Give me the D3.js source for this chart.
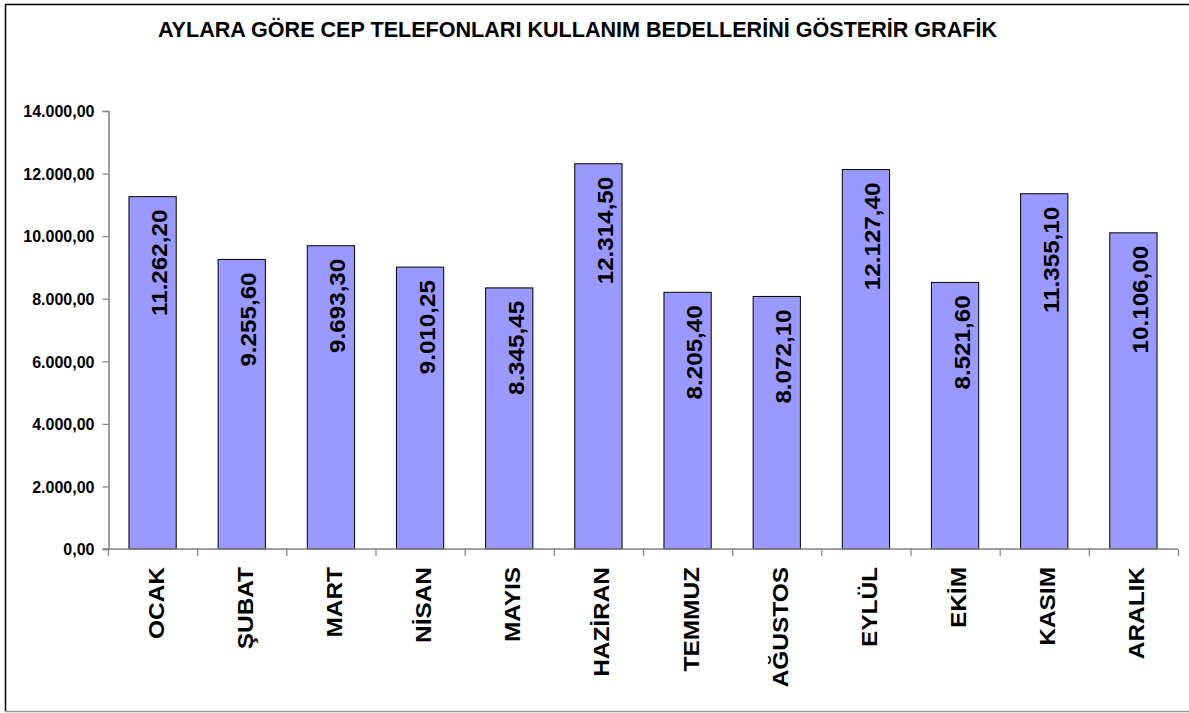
<!DOCTYPE html>
<html>
<head>
<meta charset="utf-8">
<script src="https://cdn.jsdelivr.net/npm/d3@7"></script>
<style>
  body { margin: 0; background: #fff; }
  text { font-family: "Liberation Sans", Arial, sans-serif; font-weight: bold; fill: #000; }
</style>
</head>
<body>
<svg id="chart" width="1189" height="713"></svg>
<script>
// chart data
const months = ["OCAK", "ŞUBAT", "MART", "NİSAN", "MAYIS", "HAZİRAN",
  "TEMMUZ", "AĞUSTOS", "EYLÜL", "EKİM", "KASIM", "ARALIK"];
const amounts = [11262.20, 9255.60, 9693.30, 9010.25, 8345.45, 12314.50,
  8205.40, 8072.10, 12127.40, 8521.60, 11355.10, 10106.00];
const yTicks = [0, 2000, 4000, 6000, 8000, 10000, 12000, 14000];
const title = "AYLARA GÖRE CEP TELEFONLARI KULLANIM BEDELLERİNİ GÖSTERİR GRAFİK";

const svg = d3.select("#chart");

// turkish number format 12.314,50
const trFmt = d3.formatLocale({
  decimal: ",", thousands: ".", grouping: [3], currency: ["", ""]
}).format(",.2f");

const x = d3.scaleBand().domain(months).range([108, 1178]).paddingInner(0.47).paddingOuter(0.235);
const y = d3.scaleLinear().domain([0, 14000]).range([549, 111]);

// outer frame
svg.append("line").attr("x1", 5.5).attr("x2", 5.5).attr("y1", 4.5).attr("y2", 711.5)
  .attr("stroke", "#000").attr("stroke-width", 1.5);
svg.append("line").attr("x1", 5).attr("x2", 1189).attr("y1", 4.5).attr("y2", 4.5)
  .attr("stroke", "#000").attr("stroke-width", 1.5);
svg.append("line").attr("x1", 5).attr("x2", 1189).attr("y1", 711.5).attr("y2", 711.5)
  .attr("stroke", "#999").attr("stroke-width", 1.5);

// title
svg.append("text")
  .attr("x", 577.5)
  .attr("y", 36.5)
  .attr("text-anchor", "middle")
  .style("font-size", "22px")
  .attr("textLength", 839)
  .attr("lengthAdjust", "spacingAndGlyphs")
  .text(title);

// bars
svg.append("g")
  .selectAll("rect")
  .data(amounts)
  .enter()
  .append("rect")
  .attr("x", (d, i) => x(months[i]))
  .attr("y", d => y(d))
  .attr("width", x.bandwidth())
  .attr("height", d => y(0) - y(d))
  .attr("fill", "#9999ff")
  .attr("stroke", "#000")
  .attr("stroke-width", 1);

// value labels inside bars (glyphs a bit stretched along the text, like the original)
svg.append("g")
  .selectAll("text")
  .data(amounts)
  .enter()
  .append("text")
  .attr("transform", (d, i) =>
    `translate(${x(months[i]) + x.bandwidth() / 2 + 14.5},${y(d) + 13}) rotate(-90) scale(1.1,1)`)
  .attr("text-anchor", "end")
  .style("font-size", "22px")
  .text(d => trFmt(d));

// y axis
const yAxis = svg.append("g").attr("transform", "translate(108.5,0)")
  .call(d3.axisLeft(y).tickValues(yTicks).tickSize(6).tickFormat(trFmt));
yAxis.select(".domain").attr("stroke", "#808080").attr("stroke-width", 1.5);
yAxis.selectAll(".tick line").attr("stroke", "#808080").attr("stroke-width", 1.2);
yAxis.selectAll(".tick text")
  .attr("x", -14)
  .attr("dy", "0.36em")
  .style("font-size", "16px")
  .style("font-family", "'Liberation Sans', Arial, sans-serif")
  .style("font-weight", "bold")
  .attr("fill", "#000");

// x axis line and boundary ticks
const gx = svg.append("g");
gx.append("line")
  .attr("x1", 103).attr("x2", 1178)
  .attr("y1", y(0)).attr("y2", y(0))
  .attr("stroke", "#808080").attr("stroke-width", 1.5);
const step = x.step();
gx.selectAll("line.tk")
  .data(d3.range(months.length + 1))
  .enter()
  .append("line")
  .attr("class", "tk")
  .attr("x1", i => 108.5 + i * step)
  .attr("x2", i => 108.5 + i * step)
  .attr("y1", y(0))
  .attr("y2", y(0) + 7)
  .attr("stroke", "#808080").attr("stroke-width", 1.2);

// month labels
gx.selectAll("text")
  .data(months)
  .enter()
  .append("text")
  .attr("transform", d => `translate(${x(d) + x.bandwidth() / 2 + 11},${y(0) + 18}) rotate(-90) scale(1.11,1)`)
  .attr("text-anchor", "end")
  .style("font-size", "22px")
  .text(d => d);
</script>
</body>
</html>
